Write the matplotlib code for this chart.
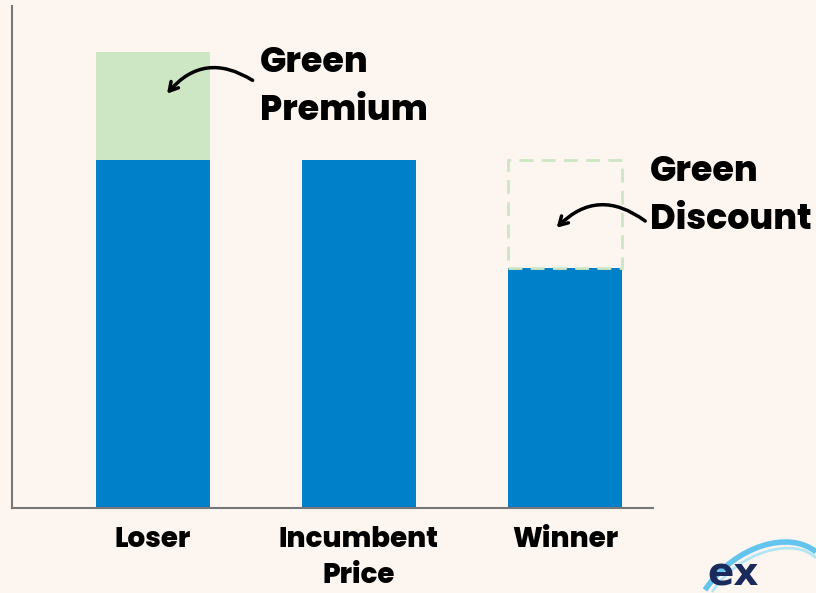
import matplotlib
matplotlib.use("Agg")
import matplotlib.pyplot as plt
from matplotlib.path import Path
from matplotlib.patches import PathPatch

categories = ["Loser", "Incumbent\nPrice", "Winner"]
base_values = [100, 100, 69]
premium_values = [31, 0, 0]
discount_values = [0, 0, 31]

BG = "#FDF6F0"
BLUE = "#0080C8"
GREEN = "#CDE6C4"
FONT = ["Poppins", "Lato", "DejaVu Sans"]

fig = plt.figure(figsize=(8.16, 5.93), dpi=100, facecolor=BG)
ax = fig.add_axes([12/816, 1-508/593, (653-12)/816, 502/593])
ax.set_facecolor(BG)

x = list(range(len(categories)))
w = 0.553
ax.bar(x, base_values, width=w, color=BLUE, zorder=2)
ax.bar(x, premium_values, width=w, bottom=base_values, color=GREEN, zorder=2)
for xi, b, d in zip(x, base_values, discount_values):
    if d > 0:
        ax.bar(xi, d, width=w, bottom=b, fill=False, edgecolor=GREEN,
               linestyle=(0, (5, 3)), linewidth=2, zorder=2)

ax.set_xlim(-0.684, 2.427)
ax.set_ylim(0, 144.3)
ax.set_yticks([])
ax.set_xticks(x)
ax.set_xticklabels(categories, fontsize=20, fontweight="heavy", family=FONT,
                   linespacing=1.35)
ax.tick_params(axis="x", length=0, pad=13)
for s in ["top", "right"]:
    ax.spines[s].set_visible(False)
for s in ["left", "bottom"]:
    ax.spines[s].set_color("#777777")
    ax.spines[s].set_linewidth(1.5)

ax.text(0.519, 120.8, "Green\nPremium", ha="left", va="center", fontsize=25,
        fontweight="heavy", family=FONT, linespacing=1.5)
ax.text(2.413, 89.4, "Green\nDiscount", ha="left", va="center", fontsize=25,
        fontweight="heavy", family=FONT, linespacing=1.5)

arrow_kw = dict(arrowstyle="->,head_length=0.6,head_width=0.35", lw=2.5,
                color="black", connectionstyle="arc3,rad=0.45")
ax.annotate("", xy=(0.06, 118.5), xytext=(0.495, 122.5),
            arrowprops=arrow_kw, annotation_clip=False)
ax.annotate("", xy=(1.95, 80.0), xytext=(2.40, 82.0),
            arrowprops=arrow_kw, annotation_clip=False)

# logo
fig.text(733/816, 1-574/593, "ex", ha="center", va="center", fontsize=28,
         color="#1B2A5C", fontweight="bold", family=["DejaVu Sans"])
verts = [(705/816, 1-590/593), (735/816, 1-545/593), (790/816, 1-530/593), (816/816, 1-552/593)]
codes = [Path.MOVETO, Path.CURVE4, Path.CURVE4, Path.CURVE4]
fig.patches.append(PathPatch(Path(verts, codes), transform=fig.transFigure,
                             fill=False, edgecolor="#3DB8F0", lw=4, alpha=0.8))
verts2 = [(712/816, 1-592/593), (740/816, 1-550/593), (795/816, 1-537/593), (816/816, 1-558/593)]
fig.patches.append(PathPatch(Path(verts2, codes), transform=fig.transFigure,
                             fill=False, edgecolor="#9FE3FA", lw=2, alpha=0.8))

fig.savefig("out.png", dpi=100, facecolor=BG)
